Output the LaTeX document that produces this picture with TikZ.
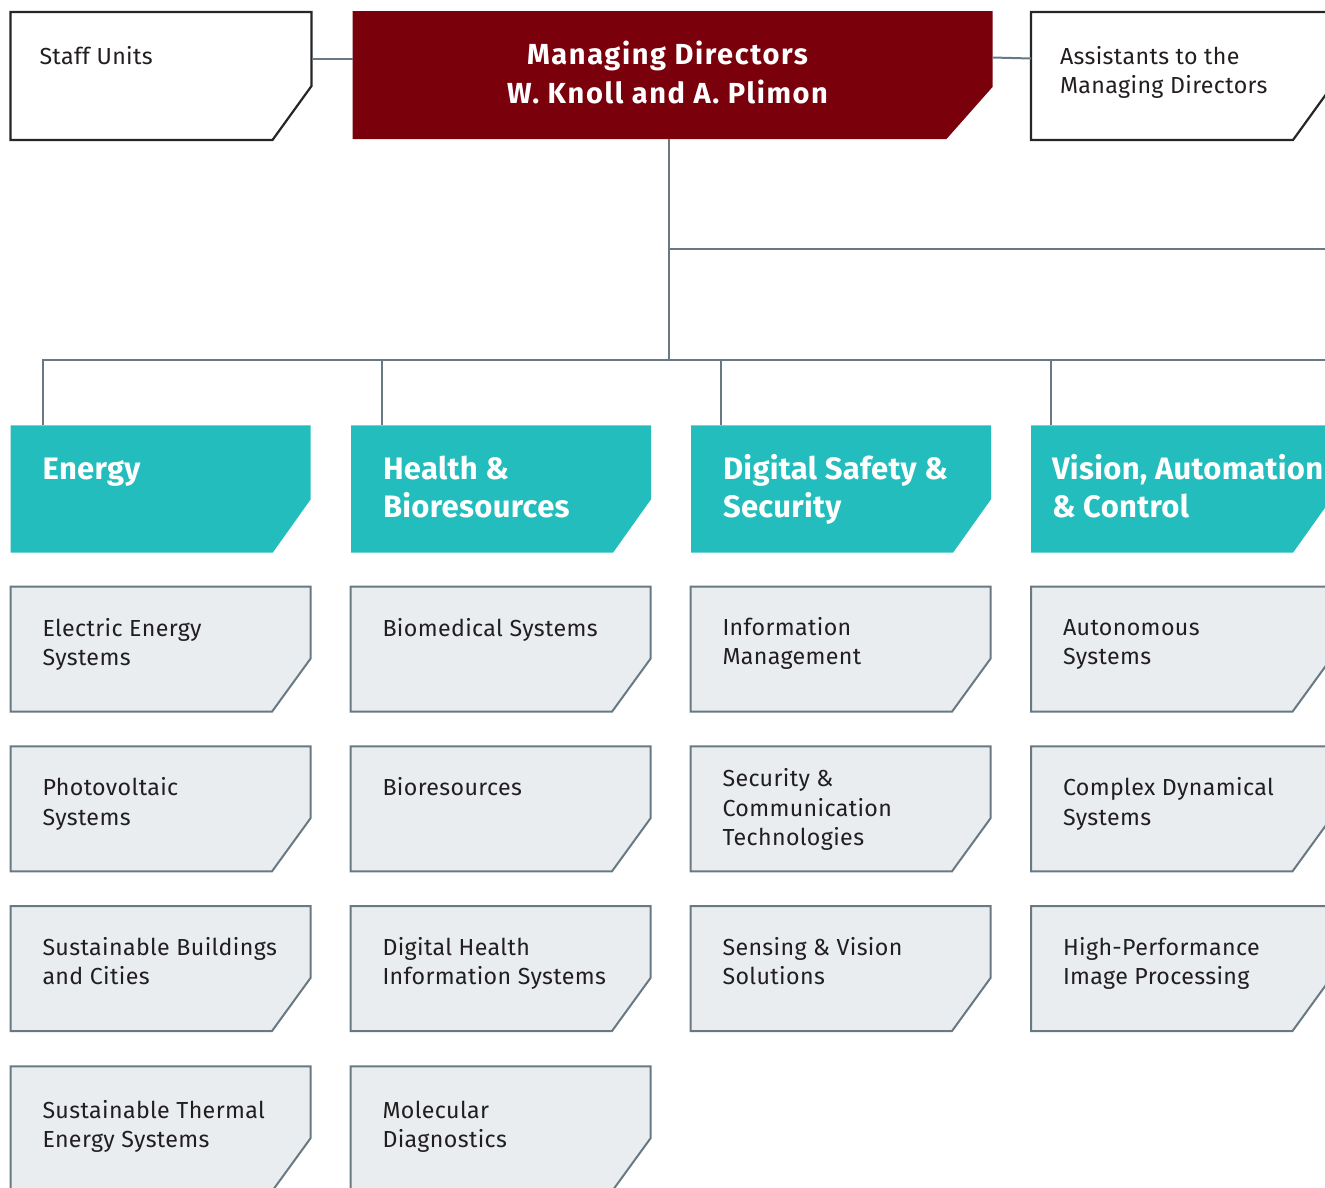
\documentclass[tikz,border=0pt]{standalone}
\usepackage{fontspec}
\setmainfont{Fira Sans}
\usetikzlibrary{calc}
\definecolor{mdred}{RGB}{122,0,12}
\definecolor{headteal}{RGB}{34,189,188}
\definecolor{subfill}{RGB}{233,237,240}
\definecolor{subline}{RGB}{104,121,131}
\definecolor{linkc}{RGB}{104,121,131}
\definecolor{darkline}{RGB}{38,38,38}
\definecolor{textc}{RGB}{34,30,32}
\newcommand\fl{\rule{0pt}{0.8em}}
% #1 name, #2 x, #3 y, #4 w, #5 h, #6 shape style, #7 chamfer w, #8 chamfer h
\newcommand\cbox[8]{%
  \path[#6] (#2,#3) -- ++(#4,0) -- ++(0,#5-#8) -- ++(-#7,#8) -- ++(-#4+#7,0) -- cycle;
  \node[boxnode, minimum width=#4pt, minimum height=#5pt] (#1) at (#2,#3) {};
}
\tikzset{
  boxnode/.style={rectangle, draw=none, inner sep=0, outer sep=0, anchor=north west},
  subshape/.style={fill=subfill, draw=subline, line width=2pt},
  headshape/.style={fill=headteal},
  mdshape/.style={fill=mdred},
  unitshape/.style={fill=white, draw=darkline, line width=2.2pt},
  link/.style={draw=linkc, line width=2pt},
  subtext/.style={anchor=north west, inner sep=0, outer sep=0, align=left, text=textc,
    font=\fontsize{23.2}{29.3}\selectfont\addfontfeatures{LetterSpace=1.6}},
  unittext/.style={subtext},
  headtext/.style={anchor=north west, inner sep=0, outer sep=0, align=left, text=white,
    font=\fontsize{31}{38}\selectfont\bfseries\addfontfeatures{LetterSpace=1.0}},
  mdtext/.style={anchor=north, inner sep=0, outer sep=0, align=center, text=white,
    font=\fontsize{29}{39}\selectfont\bfseries\addfontfeatures{LetterSpace=5.5}},
}
\begin{document}
\begin{tikzpicture}[x=1pt,y=-1pt]
\useasboundingbox (0,0) rectangle (1325,1187);
\clip (0,0) rectangle (1325,1187);

% top row
\cbox{staff}{10.5}{12}{301}{128}{unitshape}{39}{54}
\cbox{md}{352.5}{11}{640}{128}{mdshape}{46}{52}
\cbox{assist}{1031}{12}{301}{128}{unitshape}{39}{54}

\node[unittext] (tstaff) at ($(staff.north west)+(29,52-18.56)$) {\fl Staff Units};
\node[unittext] (tassist) at ($(assist.north west)+(29,52.5-18.56)$) {\fl Assistants to the\\Managing Directors};
\node[mdtext] (tmd) at (667.5,64.3-23.2) {\fl Managing Directors\\W. Knoll and A. Plimon};

% heads
\cbox{h1}{10.7}{425.3}{300}{127.4}{headshape}{38}{53.4}
\cbox{h2}{351}{425.3}{300}{127.4}{headshape}{38}{53.4}
\cbox{h3}{691}{425.3}{300}{127.4}{headshape}{38}{53.4}
\cbox{h4}{1031}{425.3}{300}{127.4}{headshape}{38}{53.4}

\node[headtext] (th1) at ($(h1.north west)+(32,54-24.8)$) {\fl Energy};
\node[headtext] (th2) at ($(h2.north west)+(32,54-24.8)$) {\fl Health \&\\Bioresources};
\node[headtext] (th3) at ($(h3.north west)+(32,54-24.8)$) {\fl Digital Safety \&\\Security};
\node[headtext] (th4) at ($(h4.north west)+(21,54-24.8)$) {\fl Vision, Automation\\\& Control};

% sub boxes
\foreach \c/\x in {1/10.5,2/350.5,3/690.5,4/1031}{
  \foreach \r/\y in {1/586.7,2/746.3,3/906,4/1066.3}{
    \ifnum\c=3 \ifnum\r=4 \else \cbox{s\c\r}{\x}{\y}{300}{125}{subshape}{38.5}{53}\fi
    \else\ifnum\c=4 \ifnum\r=4 \else \cbox{s\c\r}{\x}{\y}{300}{125}{subshape}{38.5}{53}\fi
    \else \cbox{s\c\r}{\x}{\y}{300}{125}{subshape}{38.5}{53}\fi\fi
  }
}

\node[subtext] (t11) at ($(s11.north west)+(32,49.5-18.56)$) {\fl Electric Energy\\Systems};
\node[subtext] (t12) at ($(s12.north west)+(32,49.5-18.56)$) {\fl Photovoltaic\\Systems};
\node[subtext] (t13) at ($(s13.north west)+(32,49.5-18.56)$) {\fl Sustainable Buildings\\and Cities};
\node[subtext] (t14) at ($(s14.north west)+(32,52-18.56)$) {\fl Sustainable Thermal\\Energy Systems};

\node[subtext] (t21) at ($(s21.north west)+(32,49.5-18.56)$) {\fl Biomedical Systems};
\node[subtext] (t22) at ($(s22.north west)+(32,49.5-18.56)$) {\fl Bioresources};
\node[subtext] (t23) at ($(s23.north west)+(32,49.5-18.56)$) {\fl Digital Health\\Information Systems};
\node[subtext] (t24) at ($(s24.north west)+(32,52-18.56)$) {\fl Molecular\\Diagnostics};

\node[subtext] (t31) at ($(s31.north west)+(32,48.5-18.56)$) {\fl Information\\Management};
\node[subtext] (t32) at ($(s32.north west)+(32,40.5-18.56)$) {\fl Security \&\\Communication\\Technologies};
\node[subtext] (t33) at ($(s33.north west)+(32,49.5-18.56)$) {\fl Sensing \& Vision\\Solutions};

\node[subtext] (t41) at ($(s41.north west)+(32,48.5-18.56)$) {\fl Autonomous\\Systems};
\node[subtext] (t42) at ($(s42.north west)+(32,49.5-18.56)$) {\fl Complex Dynamical\\Systems};
\node[subtext] (t43) at ($(s43.north west)+(32,49.5-18.56)$) {\fl High-Performance\\Image Processing};

% connectors
\coordinate (busR) at (1330,360);
\coordinate (brR) at (1330,249);
\coordinate (junc) at (668.5,360);
\coordinate (brJ) at (668.5,249);
\draw[link] ([yshift=-46.5pt]staff.north east) -- ([yshift=-47.5pt]md.north west);
\draw[link] ([yshift=-46.5pt]md.north east) -- ([yshift=-46.5pt]assist.north west);
\draw[link] (md.south -| junc) -- (junc);
\draw[link] (brJ) -- (brR);
\draw[link] ([xshift=32.3pt]h1.north west) |- (busR);
\draw[link] ([xshift=30.5pt]h2.north west) -- ++(0,-65.3);
\draw[link] ([xshift=29.5pt]h3.north west) -- ++(0,-65.3);
\draw[link] ([xshift=19.5pt]h4.north west) -- ++(0,-65.3);
\end{tikzpicture}
\end{document}
